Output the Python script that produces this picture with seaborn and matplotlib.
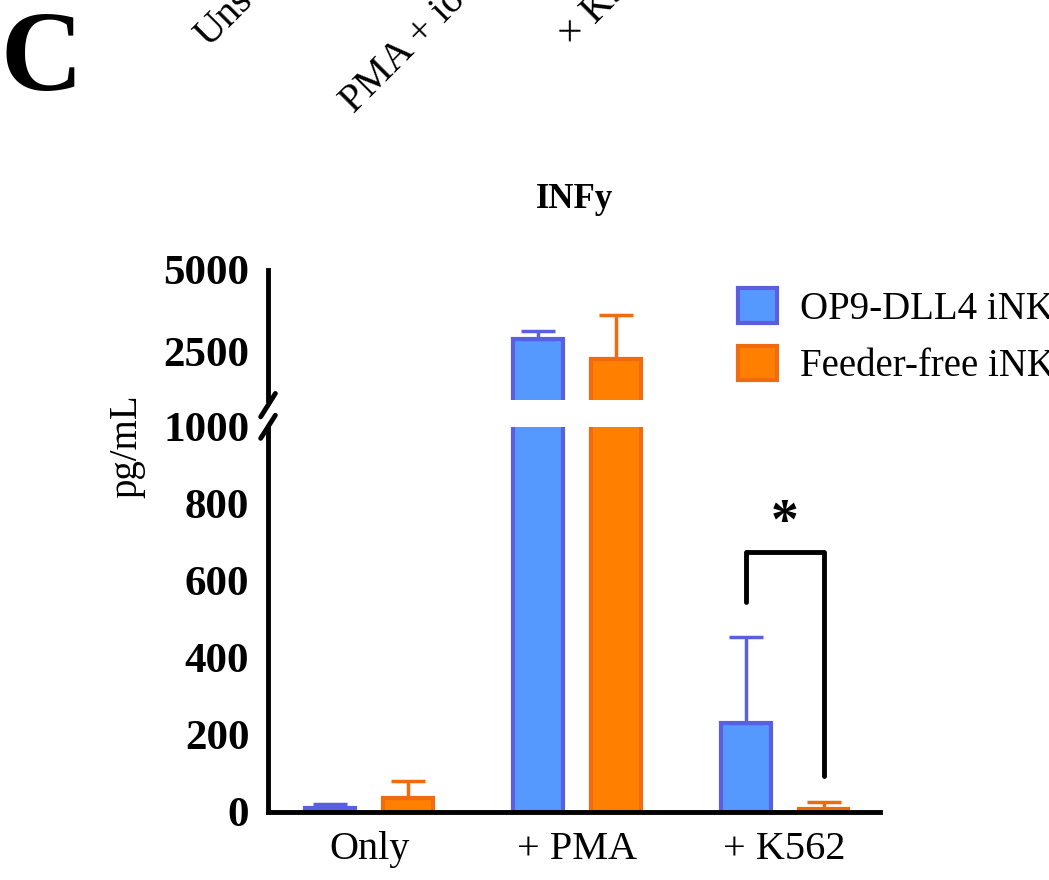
import numpy as np
import pandas as pd
import seaborn as sns
import matplotlib
matplotlib.use('Agg')
import matplotlib.pyplot as plt
from matplotlib.patches import Patch

groups = ['Only', '+ PMA', '+ K562']
series = ['OP9-DLL4 iNK', 'Feeder-free iNK']
op9_mean = [10, 2870, 230]
op9_err = [10, 240, 225]
ff_mean = [35, 2250, 8]
ff_err = [45, 1350, 17]

faces = ['#5599FF', '#FF8000']
edges = ['#5A5FE0', '#F06A10']

sns.set_style('white')
plt.rcParams['font.family'] = ['Liberation Serif', 'DejaVu Serif']
plt.rcParams['text.color'] = 'black'
plt.rcParams['axes.edgecolor'] = 'black'
plt.rcParams['xtick.color'] = 'black'
plt.rcParams['ytick.color'] = 'black'
plt.rcParams['axes.labelcolor'] = 'black'

df = pd.DataFrame({
    'group': groups * 2,
    'series': [series[0]] * 3 + [series[1]] * 3,
    'value': op9_mean + ff_mean,
    'err': op9_err + ff_err,
})

fig = plt.figure(figsize=(10.49, 8.8), dpi=100)
ax_lo = fig.add_axes([0.2555, 0.0773, 0.5835, 0.4377])
ax_hi = fig.add_axes([0.2555, 0.5455, 0.5835, 0.1477])

offs = [-0.1875, 0.1875]
for ax in (ax_lo, ax_hi):
    sns.barplot(df, x='group', y='value', hue='series', palette=faces,
                saturation=1, width=0.75, gap=0.36, ax=ax, legend=False,
                errorbar=None, linewidth=3)
    for i, p in enumerate(ax.patches):
        p.set_edgecolor(edges[i // 3])
    for k, s in enumerate(series):
        sub = df[df['series'] == s]
        ax.errorbar(np.arange(3) + offs[k], sub['value'],
                    yerr=[np.zeros(3), sub['err']], fmt='none',
                    ecolor=edges[k], elinewidth=2.5, capsize=12, capthick=2.5)
    ax.set_xlim(-0.487, 2.46)
    ax.set_xlabel('')
    ax.set_ylabel('')
    for sp in ['top', 'right']:
        ax.spines[sp].set_visible(False)
    ax.spines['left'].set_linewidth(3.5)
    ax.spines['bottom'].set_linewidth(3.5)
    ax.tick_params(axis='both', width=3, length=10, labelsize=31)

ax_lo.set_ylim(0, 1000)
ax_lo.set_yticks([0, 200, 400, 600, 800, 1000])
ax_lo.tick_params(axis='x', labelsize=29, pad=4)

ax_hi.set_ylim(1000, 5000)
ax_hi.set_yticks([2500, 5000])
ax_hi.spines['bottom'].set_visible(False)
ax_hi.tick_params(axis='x', bottom=False, labelbottom=False)

for ax in (ax_lo, ax_hi):
    for t in ax.get_yticklabels():
        t.set_fontweight('bold')

# break marks
kw = dict(color='k', lw=3.5, clip_on=False)
ax_hi.plot([-0.012, 0.012], [-0.13, 0.05], transform=ax_hi.transAxes, **kw)
ax_lo.plot([-0.012, 0.012], [0.97, 1.03], transform=ax_lo.transAxes, **kw)

# significance bracket
ax_lo.plot([1.8125, 1.8125, 2.1875, 2.1875], [545, 675, 675, 93],
           color='k', lw=3.5)
ax_lo.text(2.0, 680, '*', ha='center', va='bottom', fontsize=40,
           fontweight='bold')

ax_lo.set_ylabel('pg/mL', fontsize=28)
ax_lo.yaxis.set_label_coords(-0.2, 0.95)

fig.text(0.548, 0.773, 'INFy', ha='center', va='center', fontsize=25,
         fontweight='bold')
fig.text(0.0, 0.93, 'C', ha='left', va='center', fontsize=82,
         fontweight='bold')

for x, y, s in [(0.198, 0.945, 'Uns'), (0.337, 0.87, 'PMA + io'),
                (0.545, 0.945, '× K562')]:
    fig.text(x, y, s, rotation=45, ha='left', va='baseline',
             fontsize=29, rotation_mode='anchor')

handles = [Patch(facecolor=faces[i], edgecolor=edges[i], lw=3)
           for i in range(2)]
fig.legend(handles, series, loc='upper left', bbox_to_anchor=(0.67, 0.712),
           frameon=False, fontsize=28, handlelength=1.0, handleheight=1.0,
           handletextpad=0.6, labelspacing=0.45)

fig.savefig('out.png', dpi=100)
